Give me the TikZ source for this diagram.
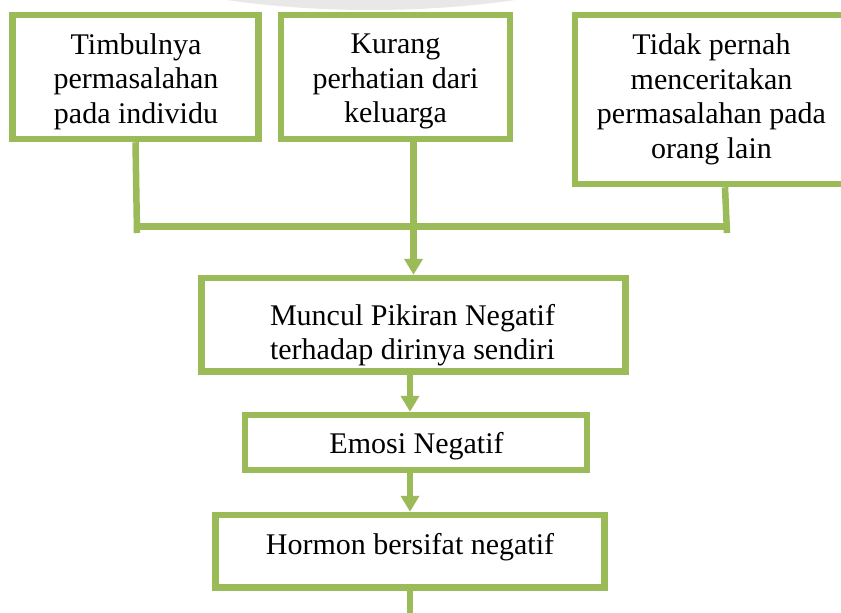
\documentclass[tikz,border=0pt]{standalone}
\usepackage{fontspec}
\setmainfont{Liberation Serif}
\usetikzlibrary{arrows.meta}
\definecolor{og}{HTML}{9BBB59}
\definecolor{wm}{HTML}{E8E8E8}
\begin{document}
\begin{tikzpicture}[x=1pt,y=-1pt,
  box/.style={draw=og, line width=6.5pt, fill=white, inner sep=0pt, rectangle},
  txt/.style={font=\fontsize{30}{34.5}\selectfont, align=center, inner sep=0pt},
  link/.style={draw=og, line width=6.5pt},
  arr/.style={link, -{Triangle[width=18pt,length=16pt]}}]
\useasboundingbox (0,0) rectangle (841,613);
\clip (0,0) rectangle (841,613);
\fill[wm] (371,-150) ellipse [x radius=414, y radius=160];
% boxes
\node[box, minimum width=246pt, minimum height=124pt] (b1) at (135.5,77) {};
\node[box, minimum width=229pt, minimum height=124pt] (b2) at (395.5,77) {};
\node[box, minimum width=273pt, minimum height=169pt] (b3) at (711.5,99.5) {};
\node[box, minimum width=424pt, minimum height=93.5pt] (b4) at (413.5,324.75) {};
\node[box, minimum width=342pt, minimum height=55pt] (b5) at (416,442.5) {};
\node[box, minimum width=389pt, minimum height=72.5pt] (b6) at (410,551.25) {};
% texts
\node[txt] (t1) at (136,81.5) {Timbulnya\\permasalahan\\pada individu};
\node[txt] (t2) at (395.5,81.8) {Kurang\\perhatian dari\\keluarga};
\node[txt] (t3) at (711.5,99.25) {Tidak pernah\\menceritakan\\permasalahan pada\\orang lain};
\node[txt] (t4) at (412.5,335.25) {Muncul Pikiran Negatif\\terhadap dirinya sendiri};
\node[txt] (t5) at (416.5,446) {Emosi Negatif};
\node[txt] (t6) at (410,547) {Hormon bersifat negatif};
% connectors
\coordinate (s1) at (137,233);
\coordinate (k3) at (725,0);
\coordinate (s3) at (727,233);
\coordinate (barL) at (137,226.5);
\coordinate (barR) at (727,226.5);
\coordinate (ax) at (410,0);
\coordinate (endc) at (410,620);
\draw[link] (b1.south) -- (s1);
\draw[link] (b3.south -| k3) -- (s3);
\draw[link] (barL) -- (barR);
\draw[arr] (b2.south -| b4.north) -- (b4.north);
\draw[arr] (b4.south -| ax) -- (b5.north -| ax);
\draw[arr] (b5.south -| b6.north) -- (b6.north);
\draw[link] (b6.south) -- (endc);
\end{tikzpicture}
\end{document}
